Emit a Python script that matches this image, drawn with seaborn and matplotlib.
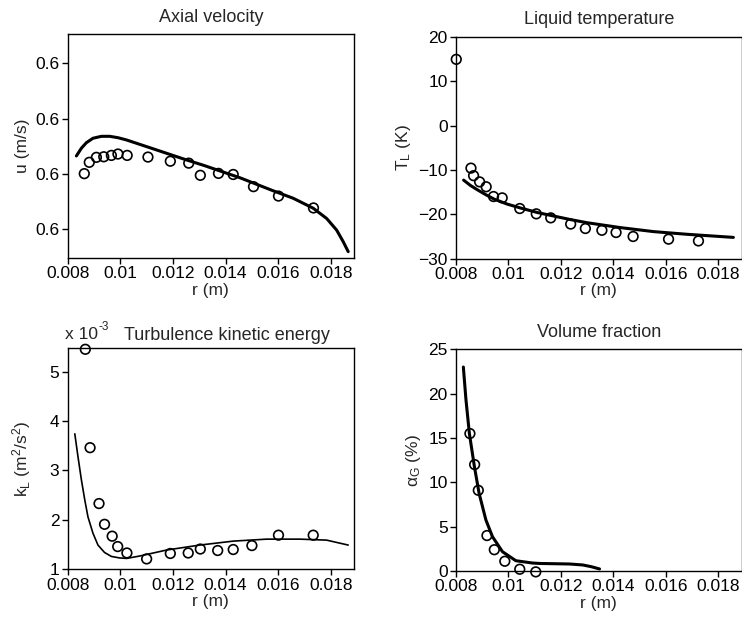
import numpy as np
import pandas as pd
import matplotlib
matplotlib.use("Agg")
import matplotlib.pyplot as plt
import matplotlib.transforms as mtransforms
import seaborn as sns
from matplotlib.ticker import FuncFormatter

sns.set_style("ticks")
plt.rcParams['font.family'] = ['Liberation Sans', 'DejaVu Sans']
plt.rcParams['mathtext.fontset'] = 'custom'
plt.rcParams['mathtext.rm'] = 'Liberation Sans'
plt.rcParams['mathtext.it'] = 'Liberation Sans'

# ---- Axial velocity ----
u_exp_r = [0.00863, 0.00882, 0.00909, 0.00937, 0.00966, 0.00991, 0.01026, 0.01105, 0.0119,
           0.0126, 0.01304, 0.01373, 0.01429, 0.01506, 0.01601, 0.01734]
u_exp = [0.5801, 0.5842, 0.5860, 0.5862, 0.5867, 0.5872, 0.5867, 0.5861, 0.5846,
         0.5839, 0.5795, 0.5802, 0.5798, 0.5754, 0.5720, 0.5677]
u_sim_r = [0.00833, 0.00852, 0.00871, 0.00896, 0.00928, 0.0096, 0.00991, 0.01023, 0.01118,
           0.01244, 0.0132, 0.01455, 0.01581, 0.01657, 0.01733, 0.01784, 0.01822, 0.01847,
           0.01866]
u_sim = [0.5865, 0.5893, 0.5913, 0.5929, 0.5936, 0.5936, 0.5931, 0.5923, 0.5893,
         0.5853, 0.5830, 0.5786, 0.5739, 0.5712, 0.5676, 0.5639, 0.5597, 0.5555,
         0.5519]
u_ticks = [0.56, 0.58, 0.60, 0.62]

# ---- Liquid temperature ----
T_exp_r = [0.00801, 0.00857, 0.00867, 0.0089, 0.00915, 0.00943, 0.00976, 0.01043, 0.01106,
           0.01161, 0.01237, 0.01293, 0.01356, 0.01410, 0.01475, 0.0161, 0.01724]
T_exp = [14.9, -9.6, -11.3, -12.7, -13.8, -16.0, -16.3, -18.7, -19.9,
         -20.8, -22.2, -23.2, -23.6, -24.1, -25.0, -25.6, -26.0]
T_sim_r = [0.00829, 0.00855, 0.00882, 0.00914, 0.00946, 0.00995, 0.01047, 0.0111, 0.01173,
           0.01237, 0.0130, 0.01427, 0.01553, 0.0168, 0.01857]
T_sim = [-12.3, -13.5, -14.5, -15.6, -16.6, -17.7, -18.6, -19.6, -20.4,
         -21.2, -21.9, -23.0, -23.9, -24.5, -25.2]

# ---- Turbulence kinetic energy (x 1e-3) ----
k_exp_r = [0.00867, 0.00885, 0.00919, 0.0094, 0.00969, 0.0099, 0.01025, 0.0110, 0.0119,
           0.01258, 0.01304, 0.0137, 0.01429, 0.0150, 0.01601, 0.01733]
k_exp = [5.45, 3.46, 2.33, 1.91, 1.67, 1.46, 1.33, 1.21, 1.32,
         1.33, 1.41, 1.38, 1.40, 1.48, 1.69, 1.69]
k_sim_r = [0.00827, 0.00839, 0.00852, 0.00865, 0.00877, 0.00896, 0.00915, 0.0094, 0.00966,
           0.00997, 0.01024, 0.01075, 0.01176, 0.01302, 0.01429, 0.01556, 0.01682, 0.01784,
           0.01866]
k_sim = [3.74, 3.28, 2.81, 2.40, 2.06, 1.73, 1.49, 1.34, 1.26,
         1.23, 1.22, 1.27, 1.39, 1.49, 1.57, 1.61, 1.61, 1.59,
         1.49]

# ---- Volume fraction ----
a_exp_r = [0.00853, 0.00871, 0.00885, 0.00918, 0.00946, 0.00986, 0.01043, 0.01104]
a_exp = [15.5, 12.0, 9.1, 4.0, 2.4, 1.1, 0.2, -0.1]
a_sim_r = [0.00828, 0.00838, 0.00851, 0.0087, 0.00888, 0.00914, 0.00939, 0.00977, 0.01028,
           0.01091, 0.01119, 0.01233, 0.01283, 0.01315, 0.01347]
a_sim = [23.0, 19.3, 15.5, 11.8, 8.76, 5.75, 3.87, 2.18, 1.16,
         0.9, 0.85, 0.79, 0.68, 0.49, 0.23]

x_ticks = [0.008, 0.010, 0.012, 0.014, 0.016, 0.018]

fig = plt.figure(figsize=(7.42, 6.19), dpi=100)
W, H = 742, 619
def pos(l, t, r, b):
    return [l / W, 1 - b / H, (r - l) / W, (b - t) / H]

ax1 = fig.add_axes(pos(67.7, 34, 354, 258))
ax2 = fig.add_axes(pos(456, 36.7, 741.5, 258.7))
ax3 = fig.add_axes(pos(67.7, 348.3, 354, 569.3))
ax4 = fig.add_axes(pos(456, 349.3, 741.5, 571))

FS = 12.5
FT = 13
xfmt = FuncFormatter(lambda v, p: ('%g' % round(v, 4)))

def style(ax):
    ax.set_xlim(0.008, 0.01888)
    ax.set_xticks(x_ticks)
    ax.xaxis.set_major_formatter(xfmt)
    for s in ax.spines.values():
        s.set_visible(True)
        s.set_linewidth(1.0)
        s.set_color('black')
    ax.tick_params(direction='out', length=4, width=1, labelsize=FS, colors='black', pad=2,
                   top=False, right=False)
    ax.set_xlabel('r (m)', fontsize=FS, labelpad=1)

def draw(ax, sr, sv, er, ev, lw):
    sns.lineplot(x=sr, y=sv, ax=ax, color='black', linewidth=lw, sort=False, estimator=None)
    sns.scatterplot(x=er, y=ev, ax=ax, marker='o', s=48, facecolor='none',
                    edgecolor='black', linewidth=1.2, clip_on=False, zorder=3)

draw(ax1, u_sim_r, u_sim, u_exp_r, u_exp, 2.2)
style(ax1)
ax1.set_ylim(0.5496, 0.6306)
ax1.set_yticks(u_ticks)
ax1.yaxis.set_major_formatter(FuncFormatter(lambda v, p: '%.1f' % v))
ax1.set_ylabel('u (m/s)', fontsize=FS, labelpad=4)
ax1.set_title('Axial velocity', fontsize=FT, pad=9)

draw(ax2, T_sim_r, T_sim, T_exp_r, T_exp, 2.2)
style(ax2)
ax2.set_ylim(-30, 20)
ax2.set_yticks([-30, -20, -10, 0, 10, 20])
ax2.yaxis.set_major_formatter(FuncFormatter(lambda v, p: ('%d' % v).replace('-', '\u2212')))
ax2.set_ylabel(r'T$_\mathregular{L}$ (K)', fontsize=FS, labelpad=4)
ax2.set_title('Liquid temperature', fontsize=FT, pad=9)

draw(ax3, k_sim_r, k_sim, k_exp_r, k_exp, 1.2)
style(ax3)
ax3.set_ylim(1, 5.47)
ax3.set_yticks([1, 2, 3, 4, 5])
ax3.set_ylabel(r'k$_\mathregular{L}$ (m$^\mathregular{2}$/s$^\mathregular{2}$)', fontsize=FS, labelpad=12)
ax3.set_title('Turbulence kinetic energy', fontsize=FT, pad=6, x=0.555)
ax3.text(-0.008, 1.03, 'x 10', transform=ax3.transAxes, fontsize=FT - 0.5,
         ha='left', va='bottom')
off = mtransforms.offset_copy(ax3.transAxes, fig=fig, x=24, y=6, units='points')
ax3.text(-0.008, 1.03, '-3', transform=off, fontsize=8.5, ha='left', va='bottom')

draw(ax4, a_sim_r, a_sim, a_exp_r, a_exp, 2.2)
style(ax4)
ax4.set_ylim(0, 25)
ax4.set_yticks([0, 5, 10, 15, 20, 25])
ax4.set_ylabel(r'$\alpha_\mathregular{G}$ (%)', fontsize=FS, labelpad=4)
ax4.set_title('Volume fraction', fontsize=FT, pad=9)

fig.savefig('out.png', dpi=100)
